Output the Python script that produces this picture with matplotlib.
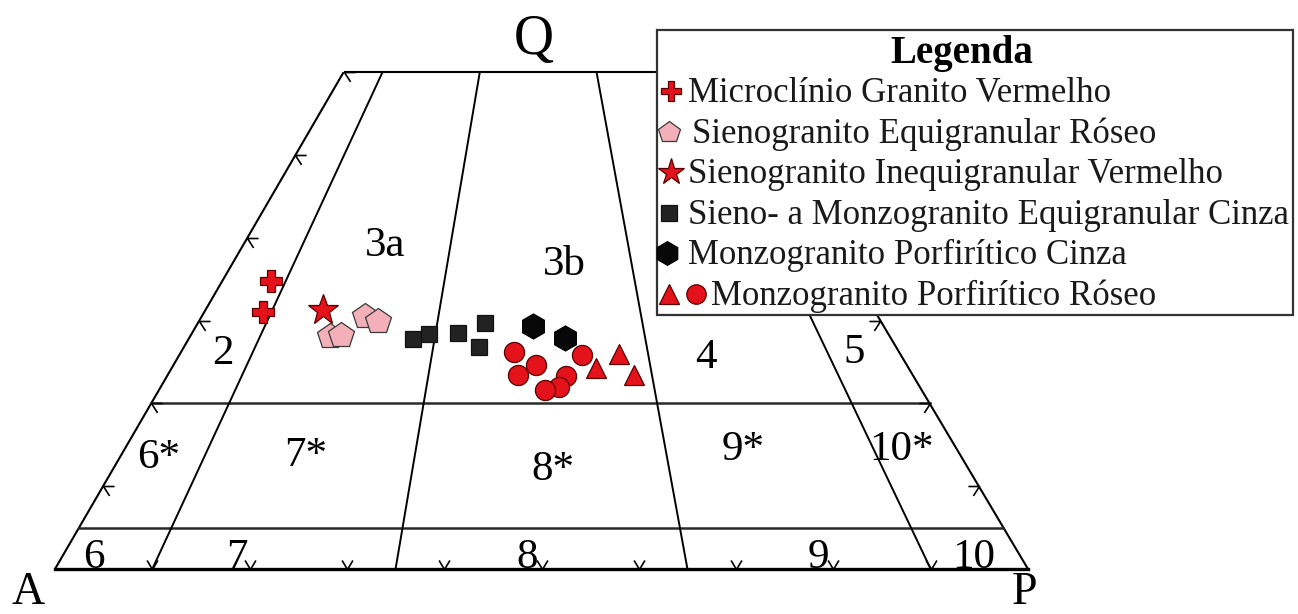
import matplotlib.pyplot as plt
import matplotlib.patches as patches
from matplotlib.path import Path

plt.rcParams['font.family'] = ['Liberation Serif', 'DejaVu Serif']

# ---- data: modal Q-A-P (%) ----
micro_q = [34.8, 31.0]
micro_a = [60.2, 62.9]
micro_p = [5.0, 6.1]

sieno_eq_q = [30.6, 29.9, 28.1, 28.3]
sieno_eq_a = [52.7, 51.7, 57.5, 56.3]
sieno_eq_p = [16.7, 18.4, 14.4, 15.4]

sieno_ineq_q = [31.3]
sieno_ineq_a = [56.6]
sieno_ineq_p = [12.1]

cinza_eq_q = [27.8, 28.4, 28.5, 29.7, 26.8]
cinza_eq_a = [49.1, 47.2, 44.2, 40.8, 42.9]
cinza_eq_p = [23.1, 24.4, 27.3, 29.5, 30.3]

porf_cinza_q = [29.3, 27.9]
porf_cinza_a = [36.1, 33.5]
porf_cinza_p = [34.6, 38.6]

porf_roseo_circ_q = [26.2, 24.6, 23.4, 25.8, 23.3, 22.0, 21.6]
porf_roseo_circ_a = [39.6, 38.1, 40.6, 32.8, 35.7, 37.1, 38.7]
porf_roseo_circ_p = [34.2, 37.3, 36.0, 41.4, 41.0, 40.9, 39.7]

porf_roseo_tri_q = [24.2, 26.0, 23.4]
porf_roseo_tri_a = [32.1, 28.8, 28.7]
porf_roseo_tri_p = [43.6, 45.1, 47.9]

# Streckeisen field boundaries
ratio_lines = [10, 35, 65, 90]      # P/(A+P) %
q_lines = [5, 20]                   # Q %
q_top = 60

legend_labels = [
    "Microclínio Granito Vermelho",
    "Sienogranito Equigranular Róseo",
    "Sienogranito Inequigranular Vermelho",
    "Sieno- a Monzogranito Equigranular Cinza",
    "Monzogranito Porfirítico Cinza",
    "Monzogranito Porfirítico Róseo",
]

# ---- geometry ----
W, H = 1298, 614
APEX_X = 0.4943


def tern_xy(q, a, p):
    """Q-A-P to cartesian (base A-P on y=0, apex Q at y=1)"""
    xs, ys = [], []
    for qi, ai, pi in zip(q, a, p):
        s = qi + ai + pi
        xs.append(pi / s + APEX_X * qi / s)
        ys.append(qi / s)
    return xs, ys


def fig_px(x, y):
    return x / W, 1 - y / H


fig = plt.figure(figsize=(W / 100, H / 100), dpi=100)
ax = fig.add_axes([0, 0, 1, 1])
ax.set_xlim(-55 / 973, (W - 55) / 973)
ax.set_ylim(-45 / 828, 569 / 828)
ax.axis('off')

line_kw = dict(color='black', lw=1.5, solid_capstyle='butt', zorder=2)

# outline of the truncated triangle
lx, ly = tern_xy([0, q_top], [100, 100 - q_top], [0, 0])
rx, ry = tern_xy([0, q_top], [0, 0], [100, 100 - q_top])
ax.plot(lx, ly, **line_kw)
ax.plot(rx, ry, **line_kw)
ax.plot([lx[1], rx[1]], [ly[1], ry[1]], **line_kw)
ax.plot([lx[0], rx[0]], [ly[0], ry[0]], color='black', lw=2.4, zorder=2)

for q in q_lines:
    hx, hy = tern_xy([q, q], [100 - q, 0], [0, 100 - q])
    ax.plot(hx, hy, color='#2a2a2a', lw=1.8, zorder=2)

for r in ratio_lines:
    bx, by = tern_xy([0, q_top],
                     [100 - r, (100 - q_top) * (100 - r) / 100],
                     [r, (100 - q_top) * r / 100])
    ax.plot(bx, by, color='black', lw=1.4, zorder=2)

# small arrow-like ticks along the edges
tick_steps = [10, 20, 30, 40, 50, 60]
left_tick = Path([(1, 0), (0, 0), (0.55, -0.85)], [Path.MOVETO, Path.LINETO, Path.LINETO])
right_tick = Path([(-1, 0), (0, 0), (-0.55, -0.85)], [Path.MOVETO, Path.LINETO, Path.LINETO])
base_tick = Path([(-0.6, 1), (0, 0), (0.6, 1)], [Path.MOVETO, Path.LINETO, Path.LINETO])
tick_kw = dict(ls='none', mfc='none', mec='black', mew=1.2, zorder=2)

tx, ty = tern_xy(tick_steps, [100 - t for t in tick_steps], [0] * len(tick_steps))
ax.plot(tx, ty, marker=left_tick, ms=16, **tick_kw)
tx, ty = tern_xy(tick_steps, [0] * len(tick_steps), [100 - t for t in tick_steps])
ax.plot(tx, ty, marker=right_tick, ms=16, **tick_kw)
base_steps = [10, 20, 30, 40, 50, 60, 70, 80, 90]
tx, ty = tern_xy([0] * len(base_steps), [100 - t for t in base_steps], base_steps)
ax.plot(tx, ty, marker=base_tick, ms=13, **tick_kw)

# field numbers
field_labels = [
    ("2", 0.1727, 0.2476), ("3a", 0.3392, 0.378), ("3b", 0.5231, 0.3551),
    ("4", 0.669, 0.2428), ("5", 0.8212, 0.2488),
    ("6*", 0.1069, 0.122), ("7*", 0.258, 0.1244), ("8*", 0.5118, 0.1075),
    ("9*", 0.7071, 0.1316), ("10*", 0.8705, 0.1316),
    ("6", 0.0401, 0.0012), ("7", 0.187, 0.0012), ("8", 0.4851, 0.0012),
    ("9", 0.7842, 0.0012), ("10", 0.9445, 0.0012),
]
for txt, x, y in field_labels:
    ax.text(x, y, txt, fontsize=31, ha='center', va='baseline', zorder=3)

ax.text(0.4923, 0.622, "Q", fontsize=40, ha='center', va='baseline')
ax.text(-0.0277, -0.0540, "A", fontsize=33, ha='center', va='bottom')
ax.text(0.9959, -0.0540, "P", fontsize=33, ha='center', va='bottom')

# ---- samples ----
red = '#e3121b'
red_edge = '#5a0000'
styles = [
    (micro_q, micro_a, micro_p, dict(marker='P', ms=16, mfc=red, mec=red_edge)),
    (sieno_eq_q, sieno_eq_a, sieno_eq_p, dict(marker='p', ms=19, mfc='#f3b0b8', mec='#3a3a3a')),
    (sieno_ineq_q, sieno_ineq_a, sieno_ineq_p, dict(marker='*', ms=23, mfc=red, mec=red_edge)),
    (cinza_eq_q, cinza_eq_a, cinza_eq_p, dict(marker='s', ms=12, mfc='#222222', mec='#111111')),
    (porf_cinza_q, porf_cinza_a, porf_cinza_p, dict(marker='h', ms=18, mfc='#080808', mec='#000000')),
    (porf_roseo_circ_q, porf_roseo_circ_a, porf_roseo_circ_p, dict(marker='o', ms=14.5, mfc=red, mec=red_edge)),
    (porf_roseo_tri_q, porf_roseo_tri_a, porf_roseo_tri_p, dict(marker='^', ms=15, mfc=red, mec=red_edge)),
]
for q, a, p, st in styles:
    x, y = tern_xy(q, a, p)
    ax.plot(x, y, ls='none', mew=0.9, zorder=4, **st)

# ---- legend box ----
x0, y0 = fig_px(657, 315)
ax.add_patch(patches.Rectangle((x0, y0), 636 / W, 285 / H, transform=ax.transAxes,
                               fc='white', ec='#333333', lw=1.6, zorder=5))
tx, ty = fig_px(962, 63)
ax.text(tx, ty, "Legenda", fontsize=28, fontweight='bold', ha='center',
        va='baseline', transform=ax.transAxes, zorder=6)

key_styles = [
    [(671, dict(marker='P', ms=14, mfc=red, mec=red_edge))],
    [(669, dict(marker='p', ms=16, mfc='#f3b0b8', mec='#3a3a3a'))],
    [(671, dict(marker='*', ms=20, mfc=red, mec=red_edge))],
    [(669, dict(marker='s', ms=11, mfc='#222222', mec='#111111'))],
    [(667, dict(marker='h', ms=17, mfc='#080808', mec='#000000'))],
    [(669, dict(marker='^', ms=15, mfc=red, mec=red_edge)),
     (696, dict(marker='o', ms=14, mfc=red, mec=red_edge))],
]
text_x = [688, 692, 688, 688, 688, 711]
for i, (label, keys) in enumerate(zip(legend_labels, key_styles)):
    base = 102 + 40.6 * i
    for kx, st in keys:
        px, py = fig_px(kx, base - 11)
        ax.plot([px], [py], transform=ax.transAxes, ls='none', mew=0.9,
                zorder=6, clip_on=False, **st)
    px, py = fig_px(text_x[i], base)
    ax.text(px, py, label, fontsize=25, color='#1a1a1a', ha='left', va='baseline',
            transform=ax.transAxes, zorder=6)

fig.savefig('out.png', dpi=100, facecolor='white')
